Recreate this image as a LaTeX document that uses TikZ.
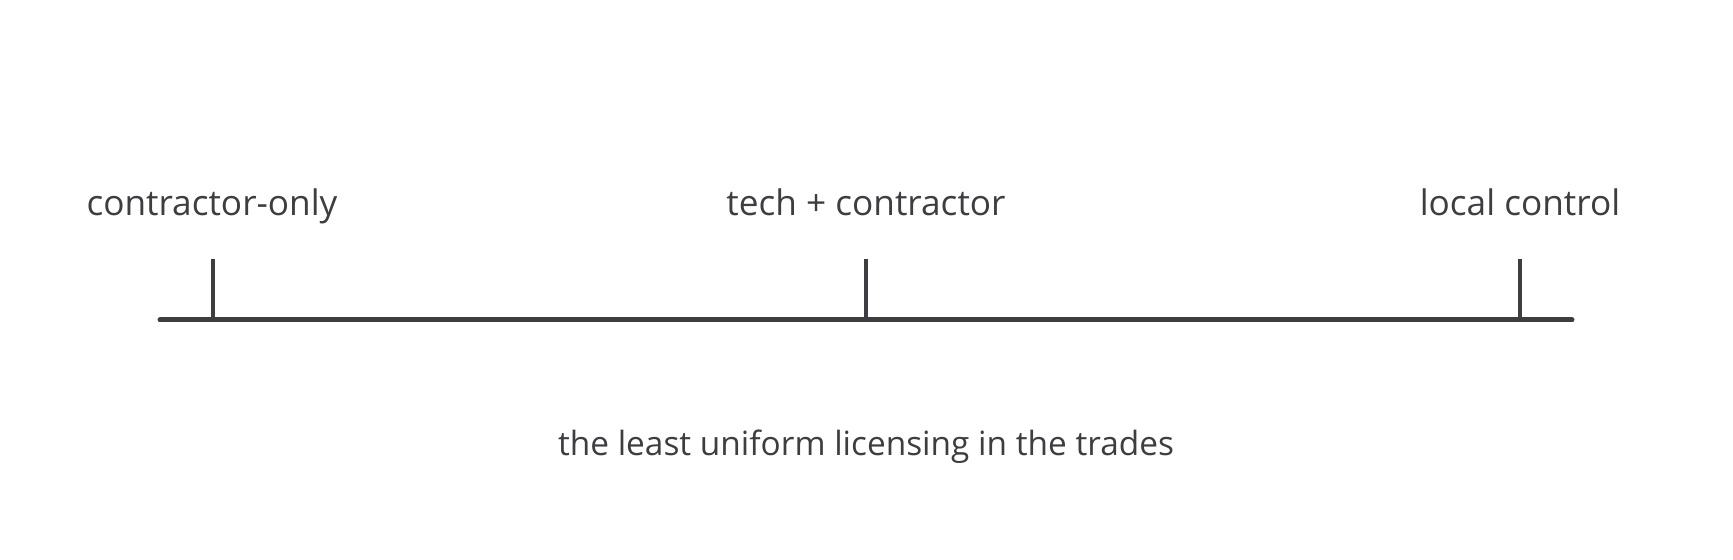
\documentclass[tikz,border=0pt]{standalone}
\usepackage{fontspec}
\setmainfont{Open Sans}
\definecolor{ink}{RGB}{61,61,66}
\begin{document}
\begin{tikzpicture}[x=0.5pt,y=-0.5pt,
  axisline/.style={draw=ink,line width=2.5pt,line cap=round},
  tickline/.style={draw=ink,line width=1.7pt},
  lbl/.style={text=ink,font=\fontsize{17.6}{20}\selectfont,anchor=base,inner sep=0pt},
  captxt/.style={text=ink,font=\fontsize{16.7}{20}\selectfont,anchor=base,inner sep=0pt}]
\useasboundingbox (0,0) rectangle (1733,560);
\coordinate (a0) at (160,320);
\coordinate (a1) at (1572,320);
\coordinate (t1) at (213,259);
\coordinate (t2) at (866,259);
\coordinate (t3) at (1520,259);
\coordinate (b1) at (213,320);
\coordinate (b2) at (866,320);
\coordinate (b3) at (1520,320);
\draw[axisline] (a0) -- (a1);
\draw[tickline] (t1) -- (b1);
\draw[tickline] (t2) -- (b2);
\draw[tickline] (t3) -- (b3);
\node[lbl] (l1) at (212,216) {contractor-only};
\node[lbl] (l2) at (866,216) {tech + contractor};
\node[lbl] (l3) at (1520,216) {local control};
\node[captxt] (cap) at (866,456) {the least uniform licensing in the trades};
\end{tikzpicture}
\end{document}
